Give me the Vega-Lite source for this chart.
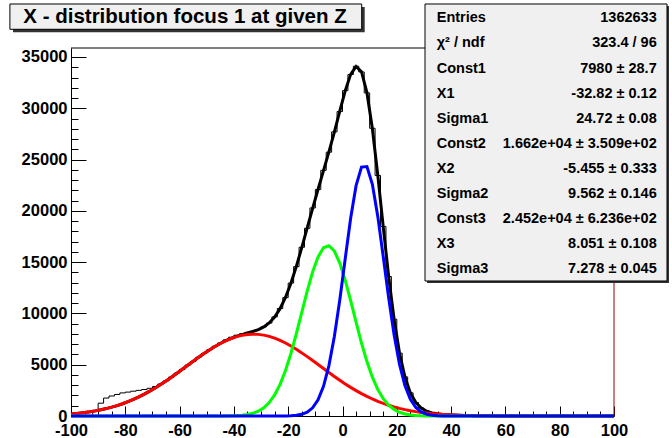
{
"$schema":"https://vega.github.io/schema/vega-lite/v6.json",
"width":543,"height":368,
"autosize":{"type":"none"},
"padding":{"left":71,"top":48,"right":58,"bottom":22},
"background":"white",
"config":{"view":{"stroke":null},"font":"Liberation Sans"},
"datasets":{
"fit":[
{"x":-100,"g1":199,"g2":0,"g3":0,"t":199},{"x":-99,"g1":222,"g2":0,"g3":0,"t":222},{"x":-97,"g1":274,"g2":0,"g3":0,"t":274},{"x":-95,"g1":337,"g2":0,"g3":0,"t":337},{"x":-93,"g1":412,"g2":0,"g3":0,"t":412},{"x":-91,"g1":500,"g2":0,"g3":0,"t":500},{"x":-89,"g1":603,"g2":0,"g3":0,"t":603},{"x":-87,"g1":723,"g2":0,"g3":0,"t":723},{"x":-85,"g1":860,"g2":0,"g3":0,"t":860},{"x":-83,"g1":1017,"g2":0,"g3":0,"t":1017},{"x":-81,"g1":1194,"g2":0,"g3":0,"t":1194},{"x":-79,"g1":1394,"g2":0,"g3":0,"t":1394},{"x":-77,"g1":1616,"g2":0,"g3":0,"t":1616},{"x":-75,"g1":1861,"g2":0,"g3":0,"t":1861},{"x":-73,"g1":2130,"g2":0,"g3":0,"t":2130},{"x":-71,"g1":2421,"g2":0,"g3":0,"t":2421},{"x":-69,"g1":2735,"g2":0,"g3":0,"t":2735},{"x":-67,"g1":3068,"g2":0,"g3":0,"t":3068},{"x":-65,"g1":3420,"g2":0,"g3":0,"t":3420},{"x":-63,"g1":3788,"g2":0,"g3":0,"t":3788},{"x":-61,"g1":4167,"g2":0,"g3":0,"t":4167},{"x":-59,"g1":4555,"g2":0,"g3":0,"t":4555},{"x":-57,"g1":4946,"g2":0,"g3":0,"t":4946},{"x":-55,"g1":5336,"g2":0,"g3":0,"t":5336},{"x":-53,"g1":5719,"g2":0,"g3":0,"t":5719},{"x":-51,"g1":6089,"g2":0,"g3":0,"t":6089},{"x":-49,"g1":6441,"g2":1,"g3":0,"t":6442},{"x":-47,"g1":6769,"g2":1,"g3":0,"t":6771},{"x":-45,"g1":7068,"g2":3,"g3":0,"t":7071},{"x":-43,"g1":7331,"g2":8,"g3":0,"t":7339},{"x":-41,"g1":7555,"g2":17,"g3":0,"t":7571},{"x":-39,"g1":7735,"g2":35,"g3":0,"t":7770},{"x":-37,"g1":7867,"g2":72,"g3":0,"t":7939},{"x":-35,"g1":7949,"g2":140,"g3":0,"t":8089},{"x":-33,"g1":7980,"g2":262,"g3":0,"t":8242},{"x":-31,"g1":7958,"g2":469,"g3":0,"t":8427},{"x":-29,"g1":7885,"g2":802,"g3":0,"t":8687},{"x":-27,"g1":7762,"g2":1312,"g3":0,"t":9074},{"x":-25,"g1":7591,"g2":2058,"g3":1,"t":9649},{"x":-23,"g1":7375,"g2":3087,"g3":3,"t":10464},{"x":-21,"g1":7118,"g2":4433,"g3":9,"t":11560},{"x":-19,"g1":6826,"g2":6094,"g3":25,"t":12944},{"x":-17,"g1":6502,"g2":8018,"g3":66,"t":14586},{"x":-15,"g1":6154,"g2":10098,"g3":163,"t":16415},{"x":-13,"g1":5787,"g2":12174,"g3":374,"t":18335},{"x":-11,"g1":5405,"g2":14048,"g3":797,"t":20251},{"x":-9,"g1":5016,"g2":15516,"g3":1576,"t":22109},{"x":-7,"g1":4625,"g2":16404,"g3":2890,"t":23919},{"x":-5,"g1":4236,"g2":16601,"g3":4912,"t":25749},{"x":-3,"g1":3855,"g2":16081,"g3":7743,"t":27680},{"x":-1,"g1":3485,"g2":14910,"g3":11316,"t":29711},{"x":1,"g1":3130,"g2":13233,"g3":15336,"t":31699},{"x":3,"g1":2793,"g2":11242,"g3":19272,"t":33307},{"x":5,"g1":2476,"g2":9142,"g3":22457,"t":34074},{"x":7,"g1":2181,"g2":7115,"g3":24266,"t":33562},{"x":9,"g1":1908,"g2":5302,"g3":24312,"t":31522},{"x":11,"g1":1658,"g2":3780,"g3":22588,"t":28027},{"x":13,"g1":1432,"g2":2581,"g3":19459,"t":23472},{"x":15,"g1":1228,"g2":1686,"g3":15544,"t":18459},{"x":17,"g1":1047,"g2":1054,"g3":11513,"t":13615},{"x":19,"g1":887,"g2":631,"g3":7909,"t":9427},{"x":21,"g1":746,"g2":362,"g3":5037,"t":6144},{"x":23,"g1":623,"g2":198,"g3":2975,"t":3796},{"x":25,"g1":518,"g2":104,"g3":1629,"t":2251},{"x":27,"g1":427,"g2":52,"g3":827,"t":1306},{"x":29,"g1":350,"g2":25,"g3":390,"t":765},{"x":31,"g1":285,"g2":12,"g3":170,"t":467},{"x":33,"g1":231,"g2":5,"g3":69,"t":305},{"x":35,"g1":185,"g2":2,"g3":26,"t":213},{"x":37,"g1":148,"g2":1,"g3":9,"t":158},{"x":39,"g1":117,"g2":0,"g3":3,"t":120},{"x":41,"g1":92,"g2":0,"g3":1,"t":93},{"x":43,"g1":72,"g2":0,"g3":0,"t":72},{"x":45,"g1":56,"g2":0,"g3":0,"t":56},{"x":47,"g1":44,"g2":0,"g3":0,"t":44},{"x":49,"g1":33,"g2":0,"g3":0,"t":33},{"x":51,"g1":25,"g2":0,"g3":0,"t":25},{"x":53,"g1":19,"g2":0,"g3":0,"t":19},{"x":55,"g1":15,"g2":0,"g3":0,"t":15},{"x":57,"g1":11,"g2":0,"g3":0,"t":11},{"x":59,"g1":8,"g2":0,"g3":0,"t":8},{"x":61,"g1":6,"g2":0,"g3":0,"t":6},{"x":63,"g1":4,"g2":0,"g3":0,"t":4},{"x":65,"g1":3,"g2":0,"g3":0,"t":3},{"x":67,"g1":2,"g2":0,"g3":0,"t":2},{"x":69,"g1":2,"g2":0,"g3":0,"t":2},{"x":71,"g1":1,"g2":0,"g3":0,"t":1},{"x":73,"g1":1,"g2":0,"g3":0,"t":1},{"x":75,"g1":0.6,"g2":0,"g3":0,"t":0.6},{"x":77,"g1":0.4,"g2":0,"g3":0,"t":0.4},{"x":79,"g1":0.3,"g2":0,"g3":0,"t":0.3},{"x":81,"g1":0.2,"g2":0,"g3":0,"t":0.2},{"x":83,"g1":0.1,"g2":0,"g3":0,"t":0.1},{"x":85,"g1":0.1,"g2":0,"g3":0,"t":0.1},{"x":87,"g1":0,"g2":0,"g3":0,"t":0},{"x":89,"g1":0,"g2":0,"g3":0,"t":0},{"x":91,"g1":0,"g2":0,"g3":0,"t":0},{"x":93,"g1":0,"g2":0,"g3":0,"t":0},{"x":95,"g1":0,"g2":0,"g3":0,"t":0},{"x":97,"g1":0,"g2":0,"g3":0,"t":0},{"x":99,"g1":0,"g2":0,"g3":0,"t":0},{"x":100,"g1":0,"g2":0,"g3":0,"t":0}
],
"hist":[
{"x":-99,"n":0},{"x":-97,"n":0},{"x":-95,"n":0},{"x":-93,"n":0},{"x":-91,"n":550},{"x":-89,"n":1250},{"x":-87,"n":1750},{"x":-85,"n":1950},{"x":-83,"n":2100},{"x":-81,"n":2250},{"x":-79,"n":2330},{"x":-77,"n":2420},{"x":-75,"n":2500},{"x":-73,"n":2580},{"x":-71,"n":2700},{"x":-69,"n":2870},{"x":-67,"n":3120},{"x":-65,"n":3420},{"x":-63,"n":3800},{"x":-61,"n":4180},{"x":-59,"n":4540},{"x":-57,"n":4960},{"x":-55,"n":5320},{"x":-53,"n":5730},{"x":-51,"n":6100},{"x":-49,"n":6460},{"x":-47,"n":6800},{"x":-45,"n":7120},{"x":-43,"n":7420},{"x":-41,"n":7680},{"x":-39,"n":7880},{"x":-37,"n":8020},{"x":-35,"n":8150},{"x":-33,"n":8260},{"x":-31,"n":8420},{"x":-29,"n":8690},{"x":-27,"n":9060},{"x":-25,"n":9660},{"x":-23,"n":10480},{"x":-21,"n":11540},{"x":-19,"n":12960},{"x":-17,"n":14560},{"x":-15,"n":16450},{"x":-13,"n":18300},{"x":-11,"n":20280},{"x":-9,"n":22080},{"x":-7,"n":23950},{"x":-5,"n":25720},{"x":-3,"n":27700},{"x":-1,"n":29680},{"x":1,"n":31720},{"x":3,"n":33290},{"x":5,"n":34100},{"x":7,"n":33540},{"x":9,"n":31500},{"x":11,"n":28050},{"x":13,"n":23450},{"x":15,"n":18480},{"x":17,"n":13600},{"x":19,"n":9440},{"x":21,"n":6130},{"x":23,"n":3810},{"x":25,"n":2260},{"x":27,"n":1310},{"x":29,"n":780},{"x":31,"n":480},{"x":33,"n":320},{"x":35,"n":220},{"x":37,"n":165},{"x":39,"n":125},{"x":41,"n":100},{"x":43,"n":80},{"x":45,"n":62},{"x":47,"n":50},{"x":49,"n":40},{"x":51,"n":30},{"x":53,"n":24},{"x":55,"n":20},{"x":57,"n":15},{"x":59,"n":12},{"x":61,"n":9},{"x":63,"n":7},{"x":65,"n":6},{"x":67,"n":5},{"x":69,"n":4},{"x":71,"n":3},{"x":73,"n":3},{"x":75,"n":2},{"x":77,"n":2},{"x":79,"n":2},{"x":81,"n":1},{"x":83,"n":1},{"x":85,"n":1},{"x":87,"n":1},{"x":89,"n":1},{"x":91,"n":0},{"x":93,"n":0},{"x":95,"n":0},{"x":97,"n":0},{"x":99,"n":0}
],
"stats":[
{"stat":"Entries","val":"1362633"},{"stat":"χ² / ndf","val":"323.4 / 96"},{"stat":"Const1","val":"7980 ± 28.7"},{"stat":"X1","val":"-32.82 ± 0.12"},{"stat":"Sigma1","val":"24.72 ± 0.08"},{"stat":"Const2","val":"1.662e+04 ± 3.509e+02"},{"stat":"X2","val":"-5.455 ± 0.333"},{"stat":"Sigma2","val":"9.562 ± 0.146"},{"stat":"Const3","val":"2.452e+04 ± 6.236e+02"},{"stat":"X3","val":"8.051 ± 0.108"},{"stat":"Sigma3","val":"7.278 ± 0.045"}
],
"title":[{"t":"X - distribution focus 1 at given Z"}]
},
"layer":[
{
"layer":[
{"data":{"name":"hist"},"mark":{"type":"line","interpolate":"step","color":"black","strokeWidth":1},
 "encoding":{
  "x":{"field":"x","type":"quantitative","scale":{"domain":[-100,100],"nice":false,"zero":false},
   "axis":{"orient":"bottom","values":[-100,-80,-60,-40,-20,0,20,40,60,80,100],"title":null,"grid":false,"domain":true,"domainColor":"black","domainWidth":1,"ticks":true,"tickColor":"black","tickSize":-10,"tickWidth":1,"labelFont":"Liberation Sans","labelFontSize":16.5,"labelFontWeight":"bold","labelColor":"black","labelPadding":16,"labelFlush":false,"labelOverlap":false,"labelBound":false,"labelExpr":"'' + datum.value"}},
  "y":{"field":"n","type":"quantitative","scale":{"domain":[0,35877],"nice":false,"zero":false},
   "axis":{"orient":"left","values":[0,5000,10000,15000,20000,25000,30000,35000],"title":null,"grid":false,"domain":true,"domainColor":"black","domainWidth":1,"ticks":true,"tickColor":"black","tickSize":-15,"tickWidth":1,"labelFont":"Liberation Sans","labelFontSize":16.5,"labelFontWeight":"bold","labelColor":"black","labelPadding":19,"labelFlush":false,"labelOverlap":false,"labelBound":false,"labelExpr":"'' + datum.value"}}}},
{"data":{"name":"fit"},"mark":{"type":"line","color":"black","strokeWidth":3},
 "encoding":{
  "x":{"field":"x","type":"quantitative","axis":{"orient":"bottom","values":[-95,-90,-85,-75,-70,-65,-55,-50,-45,-35,-30,-25,-15,-10,-5,5,10,15,25,30,35,45,50,55,65,70,75,85,90,95],"title":null,"grid":false,"domain":false,"labels":false,"tickColor":"black","tickSize":-5,"tickWidth":1}},
  "y":{"field":"t","type":"quantitative","axis":{"orient":"left","values":[1000,2000,3000,4000,6000,7000,8000,9000,11000,12000,13000,14000,16000,17000,18000,19000,21000,22000,23000,24000,26000,27000,28000,29000,31000,32000,33000,34000],"title":null,"grid":false,"domain":false,"labels":false,"tickColor":"black","tickSize":-7,"tickWidth":1}}}},
{"data":{"name":"fit"},"mark":{"type":"line","color":"#ff0000","strokeWidth":3},
 "encoding":{"x":{"field":"x","type":"quantitative","axis":null},"y":{"field":"g1","type":"quantitative","axis":null}}},
{"data":{"name":"fit"},"mark":{"type":"line","color":"#00ff00","strokeWidth":3},
 "encoding":{"x":{"field":"x","type":"quantitative","axis":null},"y":{"field":"g2","type":"quantitative","axis":null}}},
{"data":{"name":"fit"},"mark":{"type":"line","color":"#0000ff","strokeWidth":3},
 "encoding":{"x":{"field":"x","type":"quantitative","axis":null},"y":{"field":"g3","type":"quantitative","axis":null}}},
{"data":{"values":[{}]},"mark":{"type":"rule","color":"black","strokeWidth":1},
 "encoding":{"x":{"datum":-100,"type":"quantitative","axis":null},"x2":{"datum":100},"y":{"datum":35877,"type":"quantitative","axis":null}}},
{"data":{"values":[{}]},"mark":{"type":"rule","color":"#990000","strokeWidth":1},
 "encoding":{"x":{"datum":100,"type":"quantitative","axis":null},"y":{"datum":0,"type":"quantitative","axis":null},"y2":{"datum":35877}}},
{"data":{"values":[{}]},"mark":{"type":"rect","fill":"#333333"},
 "encoding":{"x":{"datum":-121.36,"type":"quantitative","axis":null},"x2":{"datum":8.18},"y":{"datum":39875,"type":"quantitative","axis":null},"y2":{"datum":37409}}},
{"data":{"values":[{}]},"mark":{"type":"rect","fill":"#f0f0f0","stroke":"black","strokeWidth":1},
 "encoding":{"x":{"datum":-122.5,"type":"quantitative","axis":null},"x2":{"datum":7.07},"y":{"datum":40168,"type":"quantitative","axis":null},"y2":{"datum":37701}}},
{"data":{"name":"title"},"mark":{"type":"text","align":"center","baseline":"alphabetic","font":"Liberation Sans","fontWeight":"bold","fontSize":20.5,"color":"black"},
 "encoding":{"x":{"datum":-58.0,"type":"quantitative","axis":null},"y":{"datum":38286,"type":"quantitative","axis":null},"text":{"field":"t"}}},
{"data":{"values":[{}]},"mark":{"type":"rect","fill":"#333333"},
 "encoding":{"x":{"datum":31.13,"type":"quantitative","axis":null},"x2":{"datum":120.26},"y":{"datum":39973,"type":"quantitative","axis":null},"y2":{"datum":12967}}},
{"data":{"values":[{}]},"mark":{"type":"rect","fill":"#f0f0f0","stroke":"black","strokeWidth":1},
 "encoding":{"x":{"datum":30.39,"type":"quantitative","axis":null},"x2":{"datum":119.52},"y":{"datum":40168,"type":"quantitative","axis":null},"y2":{"datum":13162}}}
],
"resolve":{"axis":{"x":"independent","y":"independent"}}
},
{
"data":{"name":"stats"},
"encoding":{"y":{"field":"stat","type":"ordinal","sort":null,"scale":{"type":"point","range":[-29.7,221.3],"padding":0},"axis":null}},
"layer":[
{"mark":{"type":"text","align":"left","baseline":"middle","font":"Liberation Sans","fontWeight":"bold","fontSize":14.5,"color":"black"},
 "encoding":{"x":{"datum":34.7,"type":"quantitative","axis":null},"text":{"field":"stat"}}},
{"mark":{"type":"text","align":"right","baseline":"middle","font":"Liberation Sans","fontWeight":"bold","fontSize":14.5,"color":"black"},
 "encoding":{"x":{"datum":115.73,"type":"quantitative","axis":null},"text":{"field":"val"}}}
]
}
],
"resolve":{"scale":{"y":"independent"},"axis":{"x":"independent","y":"independent"}}
}
